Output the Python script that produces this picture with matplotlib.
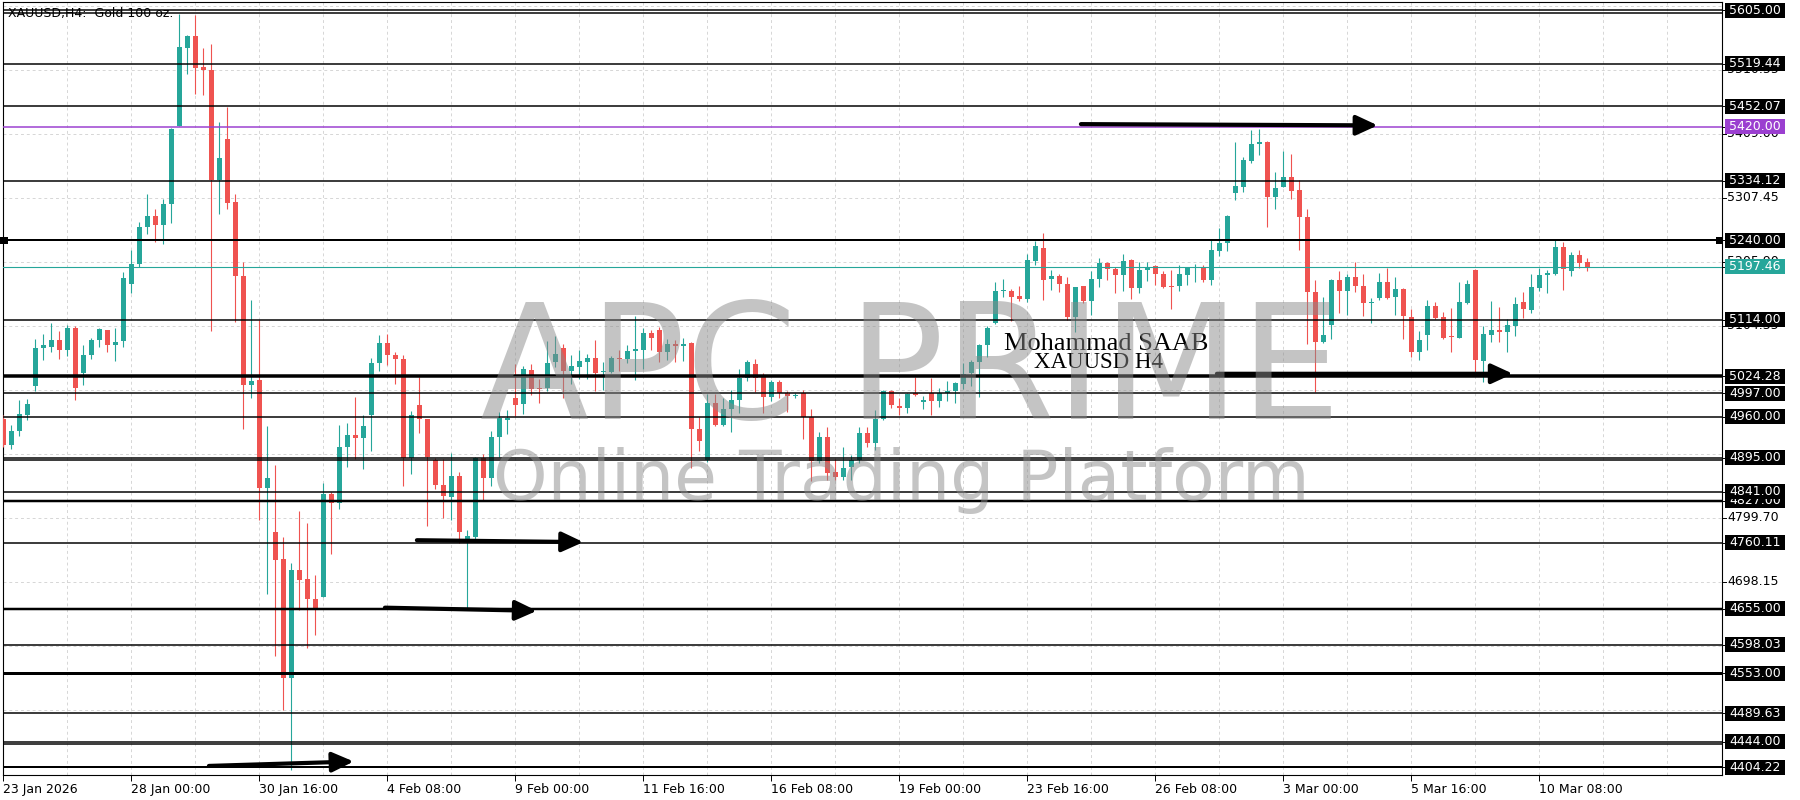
import matplotlib
matplotlib.use("Agg")
import matplotlib.pyplot as plt
import matplotlib.transforms as mtransforms
from matplotlib.patches import Rectangle
import numpy as np

# XAUUSD H4 candles, 23 Jan 08:00 .. 11 Mar 08:00
opens = [4956, 4915, 4937, 4963, 5009, 5069, 5070, 5082, 5066, 5101,
         5029, 5058, 5081, 5097, 5074, 5080, 5170, 5202, 5261, 5278,
         5264, 5297, 5421, 5545, 5564, 5515, 5510, 5335, 5400, 5300,
         5183, 5010, 5018, 4847, 4777, 4734, 4545, 4717, 4703, 4671,
         4674, 4837, 4823, 4912, 4931, 4926, 4963, 5045, 5077, 5058,
         5051, 4894, 4979, 4956, 4891, 4852, 4833, 4866, 4761, 4769,
         4894, 4863, 4928, 4955, 4990, 4980, 5034, 5006, 5006, 5046,
         5069, 5033, 5039, 5047, 5053, 5031, 5031, 5053, 5052, 5064,
         5066, 5092, 5097, 5063, 5076, 5072, 5077, 4941, 4891, 4981,
         4946, 4972, 4987, 5022, 5044, 5026, 4991, 5015, 4998, 4992,
         4998, 4960, 4889, 4928, 4872, 4865, 4880, 4891, 4934, 4918,
         4957, 5000, 4977, 4973, 4997, 4983, 4997, 4985, 4997, 5001,
         5012, 5030, 5046, 5073, 5109, 5159, 5160, 5151, 5147, 5207,
         5228, 5178, 5183, 5171, 5118, 5167, 5143, 5178, 5203, 5194,
         5185, 5209, 5164, 5192, 5199, 5187, 5168, 5167, 5185, 5195,
         5198, 5176, 5223, 5235, 5315, 5325, 5366, 5393, 5396, 5308,
         5325, 5340, 5320, 5276, 5158, 5078, 5105, 5177, 5160, 5182,
         5168, 5141, 5148, 5174, 5149, 5162, 5118, 5063, 5090, 5136,
         5118, 5087, 5085, 5140, 5193, 5049, 5090, 5097, 5094, 5104,
         5142, 5129, 5164, 5184, 5186, 5229, 5191, 5216, 5205]
highs = [4962, 4947, 4986, 4988, 5083, 5091, 5108, 5096, 5105, 5104,
         5074, 5085, 5101, 5098, 5100, 5190, 5224, 5269, 5313, 5289,
         5305, 5418, 5599, 5565, 5597, 5545, 5551, 5427, 5451, 5313,
         5205, 5145, 5113, 4945, 4883, 4769, 4728, 4810, 4791, 4709,
         4855, 4840, 4947, 4950, 4991, 4963, 5053, 5090, 5091, 5063,
         5058, 4969, 5023, 4957, 4894, 4893, 4902, 4872, 4780, 4896,
         4901, 4937, 4967, 4971, 5044, 5040, 5043, 5020, 5080, 5088,
         5076, 5057, 5065, 5059, 5081, 5047, 5056, 5066, 5073, 5119,
         5100, 5097, 5102, 5083, 5082, 5085, 5078, 4959, 4996, 4996,
         4990, 5002, 5036, 5050, 5052, 5030, 5018, 5018, 5000, 4998,
         5002, 4972, 4935, 4944, 4893, 4912, 4899, 4943, 4944, 4971,
         5002, 5003, 4989, 4997, 5023, 4992, 5022, 5005, 5016, 5015,
         5045, 5050, 5076, 5103, 5174, 5179, 5163, 5167, 5218, 5238,
         5252, 5193, 5186, 5182, 5166, 5168, 5191, 5211, 5205, 5198,
         5218, 5210, 5206, 5205, 5200, 5191, 5192, 5200, 5198, 5202,
         5200, 5240, 5259, 5280, 5395, 5372, 5415, 5416, 5397, 5348,
         5382, 5377, 5335, 5289, 5177, 5149, 5179, 5191, 5186, 5206,
         5186, 5148, 5188, 5196, 5181, 5164, 5131, 5096, 5145, 5142,
         5126, 5132, 5173, 5177, 5194, 5104, 5143, 5134, 5115, 5149,
         5158, 5187, 5195, 5193, 5240, 5237, 5221, 5224, 5212]
lows = [4912, 4909, 4929, 4955, 5001, 5050, 5062, 5051, 5056, 4986,
        5010, 5052, 5070, 5062, 5049, 5070, 5156, 5197, 5250, 5237,
        5234, 5267, 5421, 5504, 5472, 5470, 5096, 5281, 5289, 5110,
        4940, 4989, 4796, 4679, 4580, 4495, 4400, 4653, 4593, 4614,
        4674, 4742, 4814, 4880, 4893, 4877, 4906, 5032, 5042, 5012,
        4850, 4869, 4934, 4786, 4845, 4799, 4796, 4760, 4653, 4763,
        4828, 4850, 4896, 4932, 4961, 4964, 4994, 4982, 5001, 5039,
        4990, 5011, 5020, 5020, 5000, 5003, 5029, 5033, 5045, 5018,
        5035, 5066, 5046, 5050, 5047, 5049, 4879, 4906, 4888, 4945,
        4945, 4935, 4965, 5016, 4999, 4965, 4985, 4990, 4968, 4989,
        4924, 4858, 4886, 4860, 4860, 4860, 4860, 4886, 4912, 4907,
        4954, 4973, 4963, 4966, 4993, 4972, 4962, 4976, 4985, 4982,
        5004, 5008, 4991, 5055, 5107, 5150, 5112, 5144, 5142, 5201,
        5145, 5161, 5157, 5113, 5095, 5141, 5121, 5166, 5177, 5156,
        5160, 5147, 5156, 5175, 5169, 5164, 5131, 5160, 5169, 5174,
        5173, 5169, 5215, 5223, 5303, 5317, 5362, 5375, 5261, 5290,
        5325, 5305, 5225, 5075, 4999, 5077, 5083, 5124, 5122, 5158,
        5120, 5109, 5145, 5147, 5121, 5083, 5055, 5050, 5066, 5115,
        5083, 5063, 5084, 5139, 5029, 5015, 5079, 5079, 5062, 5088,
        5117, 5125, 5160, 5156, 5185, 5161, 5183, 5195, 5191]
closes = [4915, 4937, 4964, 4980, 5069, 5074, 5081, 5066, 5101, 5005,
          5058, 5081, 5099, 5074, 5078, 5180, 5202, 5261, 5278, 5264,
          5297, 5416, 5546, 5564, 5513, 5510, 5335, 5370, 5299, 5183,
          5010, 5017, 4847, 4863, 4733, 4545, 4717, 4701, 4671, 4656,
          4837, 4823, 4912, 4931, 4926, 4945, 5045, 5077, 5058, 5051,
          4894, 4963, 4956, 4896, 4852, 4834, 4866, 4777, 4771, 4894,
          4863, 4928, 4958, 4958, 4979, 5036, 5004, 5004, 5045, 5059,
          5033, 5040, 5048, 5053, 5030, 5033, 5053, 5052, 5064, 5067,
          5092, 5084, 5063, 5076, 5072, 5076, 4941, 4922, 4981, 4946,
          4972, 4987, 5022, 5046, 5022, 4991, 5015, 4998, 4992, 4995,
          4960, 4889, 4927, 4870, 4865, 4878, 4891, 4934, 4918, 4957,
          5000, 4978, 4973, 4996, 4994, 4986, 4985, 4997, 5001, 5014,
          5027, 5046, 5074, 5101, 5159, 5161, 5150, 5146, 5208, 5230,
          5177, 5183, 5171, 5118, 5165, 5143, 5178, 5203, 5194, 5185,
          5207, 5164, 5192, 5198, 5187, 5166, 5166, 5186, 5196, 5198,
          5176, 5224, 5235, 5279, 5326, 5367, 5393, 5396, 5308, 5323,
          5340, 5318, 5276, 5158, 5078, 5089, 5177, 5160, 5182, 5168,
          5141, 5142, 5174, 5148, 5162, 5119, 5063, 5082, 5136, 5117,
          5085, 5086, 5142, 5171, 5050, 5091, 5097, 5094, 5105, 5139,
          5131, 5165, 5184, 5188, 5229, 5194, 5216, 5204, 5197.46]

tick_labels = ["23 Jan 2026", "28 Jan 00:00", "30 Jan 16:00", "4 Feb 08:00",
               "9 Feb 00:00", "11 Feb 16:00", "16 Feb 08:00", "19 Feb 00:00",
               "23 Feb 16:00", "26 Feb 08:00", "3 Mar 00:00", "5 Mar 16:00",
               "10 Mar 08:00"]
bars_per_tick = 16

# horizontal levels drawn by the analyst (labelled on the price scale)
levels = [5605.00, 5519.44, 5452.07, 5334.12, 5240.00, 5114.00, 5024.28,
          4997.00, 4960.00, 4895.00, 4841.00, 4827.00, 4760.11, 4655.00,
          4598.03, 4553.00, 4489.63, 4444.00, 4404.22]
level_px = [1.5, 1.5, 1.5, 1.5, 2, 1.5, 3.5, 1.5, 1.5, 1.5, 1.5, 2.5, 1.5,
            2.5, 1.5, 3, 1.5, 1.5, 2]
extra_lines = [5600.5, 4891.5, 4440.0]   # doubled lines without their own label
purple_level = 5420.00

# price grid of the terminal; only some of its labels show on the scale
grid = [4495.05, 4596.60, 4698.15, 4799.70, 4901.25, 5002.80, 5104.35,
        5205.90, 5307.45, 5409.00, 5510.55, 5612.10]
grid_shown = [4698.15, 4799.70, 5104.35, 5205.90, 5307.45, 5409.00, 5510.55]

# trend arrows: (bar from, bar to, price from, price to)
arrows = [(134.7, 171.8, 5424, 5422),
          (51.7, 72.5, 4764, 4761),
          (47.7, 66.7, 4657, 4652),
          (25.7, 43.8, 4406, 4413),
          (151.7, 188.7, 5028, 5028)]

GREEN = "#26a69a"
RED = "#ef5350"
PURPLE = "#9b3fd0"

W, H = 1800, 800
fig = plt.figure(figsize=(W / 100, H / 100), dpi=100)
ax_l, ax_r, ax_t, ax_b = 3, 1722, 2, 775
ax = fig.add_axes([ax_l / W, 1 - ax_b / H, (ax_r - ax_l) / W, (ax_b - ax_t) / H])
ymin, ymax = 4391.6, 5617.7
ax.set_ylim(ymin, ymax)
n = len(closes)
ax.set_xlim(-0.04, (ax_r - ax_l - 0.3) / 8)
px = (ymax - ymin) / (ax_b - ax_t)   # price units per pixel

o = np.array(opens, float)
h = np.array(highs, float)
l = np.array(lows, float)
c = np.array(closes, float)
x = np.arange(n)
cols = np.where(c >= o, GREEN, RED)

# grid
for g in grid:
    ax.axhline(g, color="#d6d6d6", lw=0.7, ls=(0, (3, 3)), zorder=1)
for i in range(0, 216, 8):
    ax.axvline(i, color="#d6d6d6", lw=0.7, ls=(0, (3, 3)), zorder=1)

# candles
ax.vlines(x, l, h, colors=cols, lw=0.8, zorder=3)
ax.bar(x, np.maximum(np.abs(c - o), 1.6), bottom=np.minimum(o, c), width=0.65,
       color=cols, lw=0, zorder=4)

# level lines
for p, w in zip(levels, level_px):
    ax.axhline(p, color="black", lw=w * 0.72, zorder=5)
for p in extra_lines:
    ax.axhline(p, color="black", lw=1.5 * 0.72, zorder=5)
ax.axhline(purple_level, color=PURPLE, lw=1.5 * 0.72, zorder=5)
ax.axhline(c[-1], color=GREEN, lw=0.8, zorder=5)

# arrows
for x0, x1, p0, p1 in arrows:
    ax.annotate("", xy=(x1, p1), xytext=(x0, p0),
                arrowprops=dict(arrowstyle="-|>,head_length=0.65,head_width=0.3",
                                color="black", lw=3, mutation_scale=20,
                                shrinkA=0, shrinkB=0), zorder=6)

# price scale on the right
tr = mtransforms.blended_transform_factory(fig.transFigure, ax.transData)
for g in grid_shown:
    ax.plot([ax_r / W, (ax_r + 4) / W], [g, g], color="black", lw=0.7,
            transform=tr, clip_on=False, zorder=7)
    ax.text((ax_r + 5) / W, g, f"{g:.2f}", transform=tr, fontsize=9,
            va="center", ha="left", color="black", clip_on=False, zorder=7)


def price_box(p, fc, z):
    ax.plot([ax_r / W, (ax_r + 4) / W], [p, p], color="black", lw=0.7,
            transform=tr, clip_on=False, zorder=z)
    ax.add_patch(Rectangle(((ax_r + 3) / W, p - 7.5 * px), 60 / W, 15 * px,
                           transform=tr, fc=fc, ec="none", clip_on=False, zorder=z))
    ax.text((ax_r + 33) / W, p, f"{p:.2f}", transform=tr, fontsize=9,
            va="center", ha="center", color="white", clip_on=False, zorder=z + 0.5)


# higher prices end up on top
for k, p in enumerate(sorted(levels)):
    price_box(p, "black", 8 + k)
price_box(purple_level, PURPLE, 40)
price_box(c[-1], GREEN, 42)

# selection markers of the 5240 line
fig.add_artist(Rectangle((0, 1 - 244 / H), 8 / W, 7 / H, transform=fig.transFigure,
                         fc="black", ec="none"))
fig.add_artist(Rectangle((1716 / W, 1 - 244 / H), 6 / W, 7 / H, transform=fig.transFigure,
                         fc="black", ec="none"))

# time axis
ax.set_xticks(np.arange(0, n, bars_per_tick)[:len(tick_labels)])
ax.set_xticklabels(tick_labels, ha="left", fontsize=9)
ax.tick_params(axis="x", length=4, width=0.7, pad=2)
ax.set_yticks([])
for s in ax.spines.values():
    s.set_linewidth(0.8)
    s.set_color("black")

# texts
fig.text(8 / W, 1 - 13 / H, "XAUUSD,H4:  Gold 100 oz.", fontsize=9, va="center")
fig.text(1106 / W, 1 - 350 / H, "Mohammad SAAB", family="Liberation Serif",
         fontsize=19, ha="center", va="baseline", zorder=10)
fig.text(1098 / W, 1 - 368 / H, "XAUUSD H4", family="Liberation Serif",
         fontsize=16.5, ha="center", va="baseline", zorder=10)

# watermark
fig.text(910 / W, 1 - 419 / H, "APC PRIME", fontsize=115, color="#8a8a8a",
         alpha=0.5, ha="center", va="baseline", zorder=11)
fig.text(901 / W, 1 - 500 / H, "Online Trading Platform", fontsize=50,
         color="#8a8a8a", alpha=0.5, ha="center", va="baseline", zorder=11)

fig.savefig("out.png", dpi=100)
